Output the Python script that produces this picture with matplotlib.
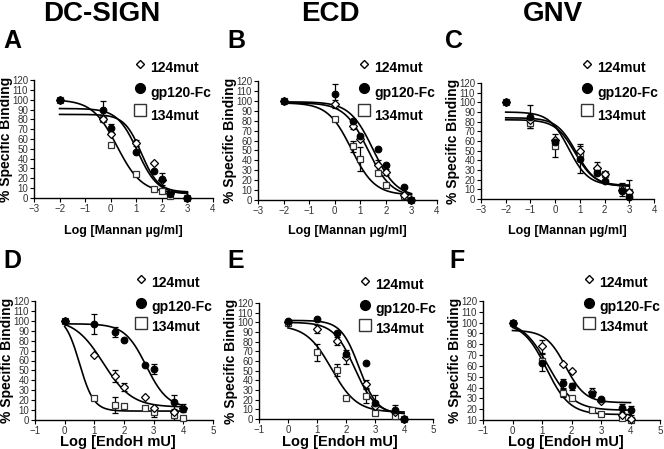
import numpy as np
import matplotlib
matplotlib.use("Agg")
import matplotlib.pyplot as plt

plt.rcParams['font.family'] = ['Liberation Sans', 'DejaVu Sans']

W, H = 664, 449

series_names = ["124mut", "gp120-Fc", "134mut"]
col_titles = ["DC-SIGN", "ECD", "GNV"]
panel_letters = ["A", "B", "C", "D", "E", "F"]
xlabel_top = "Log [Mannan µg/ml]"
xlabel_bottom = "Log [EndoH mU]"
ylabel = "% Specific Binding"

# ---- data: x (log dose), y values and error per series -------------------
xA = [-2, -0.3, 0, 1, 1.7, 2, 2.3, 3]
A_124 = [100, 80, 65, 56, 36, 18, 5, 0]
A_124_err = [0, 0, 0, 3, 0, 0, 0, 0]
A_gp = [100, 89, 71, 47, 27, 19, 4, 0]
A_gp_err = [0, 10, 4, 0, 0, 6, 0, 0]
A_134 = [100, 80, 54, 24, 9, 7, 2, 0]
A_134_err = [0, 0, 0, 0, 2, 0, 0, 0]

xB = [-2, 0, 0.7, 1, 1.7, 2, 2.7, 3]
B_124 = [100, 97, 75, 62, 35, 28, 5, 0]
B_124_err = [0, 4, 3, 0, 5, 3, 0, 0]
B_gp = [100, 107, 80, 65, 51, 35, 13, 0]
B_gp_err = [0, 10, 0, 0, 0, 0, 0, 0]
B_134 = [100, 82, 54, 41, 27, 15, 4, 0]
B_134_err = [0, 0, 6, 12, 0, 0, 0, 0]

xC = [-2, -1, 0, 1, 1.7, 2, 2.7, 3]
C_124 = [100, 82, 61, 50, 32, 26, 9, 7]
C_124_err = [0, 0, 0, 7, 6, 0, 0, 0]
C_gp = [100, 85, 59, 41, 27, 19, 8, 2]
C_gp_err = [0, 12, 0, 14, 0, 0, 0, 0]
C_134 = [100, 79, 55, 47, 29, 26, 10, 7]
C_134_err = [0, 6, 12, 0, 0, 0, 7, 13]

xD = [0, 1, 1.7, 2, 2.7, 3, 3.7, 4]
D_124 = [100, 66, 44, 33, 23, 12, 8, 12]
D_124_err = [0, 0, 6, 4, 0, 0, 0, 4]
D_gp = [100, 97, 89, 81, 55, 51, 18, 11]
D_gp_err = [0, 10, 5, 0, 0, 5, 7, 0]
D_134 = [100, 22, 15, 14, 12, 8, 5, 2]
D_134_err = [0, 0, 8, 0, 0, 5, 5, 0]

xE = [0, 1, 1.7, 2, 2.7, 3, 3.7, 4]
E_124 = [100, 93, 81, 64, 36, 13, 7, 0]
E_124_err = [0, 4, 4, 7, 4, 0, 0, 0]
E_gp = [101, 103, 89, 67, 58, 17, 9, 0]
E_gp_err = [0, 0, 0, 0, 0, 8, 5, 0]
E_134 = [99, 69, 51, 22, 24, 6, 3, 0]
E_134_err = [0, 9, 6, 0, 7, 0, 0, 0]

xF = [0, 1, 1.7, 2, 2.7, 3, 3.7, 4]
F_124 = [100, 78, 62, 55, 36, 28, 15, 11]
F_124_err = [0, 6, 0, 0, 4, 0, 0, 0]
F_gp = [100, 63, 44, 41, 34, 29, 21, 19]
F_gp_err = [0, 8, 4, 3, 0, 0, 4, 4]
F_134 = [100, 65, 35, 30, 19, 16, 12, 10]
F_134_err = [0, 0, 4, 0, 0, 0, 0, 0]

# fitted 4-parameter logistic curves: (top, bottom, logIC50, hill)
A_fit = [(85, 6, 1.2, 1.3), (91, 4, 1.05, 1.1), (100, 5, 0.25, 0.9)]
B_fit = [(98, 3, 1.3, 0.95), (99, 3, 1.5, 0.95), (98, 5, 0.65, 0.95)]
C_fit = [(84, 13, 0.85, 1.1), (90, 14, 0.55, 1.1), (82, 14, 0.8, 1.1)]
D_fit = [(102, 13, 1.3, 0.9), (97, 12, 2.75, 1.2), (105, 9, 0.5, 1.8)]
E_fit = [(100, 5, 2.3, 1.2), (102, 5, 2.45, 1.4), (97, 7, 1.5, 1.0)]
F_fit = [(93, 26, 1.8, 1.3), (102, 19, 1.2, 1.0), (100, 15, 1.15, 1.1)]

panels = [
    (xA, [A_124, A_gp, A_134], [A_124_err, A_gp_err, A_134_err], A_fit),
    (xB, [B_124, B_gp, B_134], [B_124_err, B_gp_err, B_134_err], B_fit),
    (xC, [C_124, C_gp, C_134], [C_124_err, C_gp_err, C_134_err], C_fit),
    (xD, [D_124, D_gp, D_134], [D_124_err, D_gp_err, D_134_err], D_fit),
    (xE, [E_124, E_gp, E_134], [E_124_err, E_gp_err, E_134_err], E_fit),
    (xF, [F_124, F_gp, F_134], [F_124_err, F_gp_err, F_134_err], F_fit),
]

# ---- layout (pixel boxes: left, right, top, bottom) ----------------------
boxes = [(34, 213, 80, 198), (258, 437, 81, 200), (481, 654, 83, 199),
         (35, 213, 301, 420), (259, 433, 303, 419), (483, 660, 301, 420)]
xlims = [(-3, 4)] * 3 + [(-1, 5)] * 3
ylims = [(0, 120)] * 5 + [(10, 120)]

styles = [dict(marker='D', mfc='white', mec='black', ms=4.0, mew=0.9),
          dict(marker='o', mfc='black', mec='black', ms=4.8, mew=0.8),
          dict(marker='s', mfc='white', mec='#333333', ms=5.0, mew=0.9)]

fig = plt.figure(figsize=(W / 100, H / 100), dpi=100)

def logistic(x, top, bottom, logic50, hill):
    return bottom + (top - bottom) / (1 + 10 ** ((x - logic50) * hill))

for i, (box, (x, ys, errs, fits)) in enumerate(zip(boxes, panels)):
    l, r, t, b = box
    ax = fig.add_axes([l / W, 1 - b / H, (r - l) / W, (b - t) / H])
    xs = np.linspace(min(x), max(x), 300)
    for k in range(3):
        ax.plot(xs, logistic(xs, *fits[k]), color='black', lw=1.2, zorder=2)
    for k in [2, 0, 1]:
        yv = np.array(ys[k], float)
        ev = np.array(errs[k], float)
        ax.errorbar(x, yv, yerr=ev, fmt='none', ecolor='black', elinewidth=0.9,
                    capsize=2.2, capthick=0.9, zorder=3)
        ax.plot(x, yv, ls='none', zorder=4, clip_on=False, **styles[k])
    ax.set_xlim(*xlims[i])
    ax.set_ylim(*ylims[i])
    ax.set_xticks(np.arange(xlims[i][0], xlims[i][1] + 1, 1))
    ax.set_yticks(np.arange(ylims[i][0], 121, 10))
    for s in ['top', 'right']:
        ax.spines[s].set_visible(False)
    for s in ['left', 'bottom']:
        ax.spines[s].set_linewidth(1.0)
    ax.tick_params(direction='out', length=3, width=0.8, labelsize=7,
                   labelcolor='#333333', pad=1.2)
    ax.patch.set_alpha(0)
    cx = (l + r) / 2
    cy = (t + b) / 2
    fig.text((l - 28) / W, 1 - cy / H, ylabel, rotation=90, ha='center',
             va='center', fontsize=10, fontweight='bold')
    if i < 3:
        fig.text(cx / W, 1 - 231 / H, xlabel_top, ha='center', va='center',
                 fontsize=9, fontweight='bold')
    else:
        fig.text((cx - 6) / W, 1 - 442 / H, xlabel_bottom, ha='center', va='center',
                 fontsize=10.5, fontweight='bold')

# ---- overlay for titles, letters, legends --------------------------------
ov = fig.add_axes([0, 0, 1, 1])
ov.set_xlim(0, W)
ov.set_ylim(H, 0)
ov.axis('off')

for cx, title in zip([102, 330, 553], col_titles):
    ov.text(cx, 14, title, ha='center', va='center', fontsize=20, fontweight='bold')

letter_pos = [(12, 41), (236, 41), (454, 41), (12, 261), (236, 261), (457, 261)]
for (px, py), let in zip(letter_pos, panel_letters):
    ov.text(px, py, let, ha='center', va='center', fontsize=18, fontweight='bold')

leg_styles = [dict(marker='D', mfc='white', mec='black', ms=4.5, mew=1.0),
              dict(marker='o', mfc='black', mec='black', ms=7, mew=1.0),
              dict(marker='s', mfc='white', mec='#333333', ms=8.5, mew=1.0)]
for i, box in enumerate(boxes):
    l, r, t, b = box
    mx = l + 106
    if i < 3:
        my = [64, 88, 110]
        ty = [68, 93, 116]
    else:
        my = [t - 22, t + 2, t + 22]
        ty = [t - 18, t + 6, t + 26]
    for k in range(3):
        ov.plot([mx], [my[k]], ls='none', **leg_styles[k])
        ov.text(mx + 10, ty[k], series_names[k], ha='left', va='center',
                fontsize=10, fontweight='bold')

fig.savefig('out.png', dpi=100)
